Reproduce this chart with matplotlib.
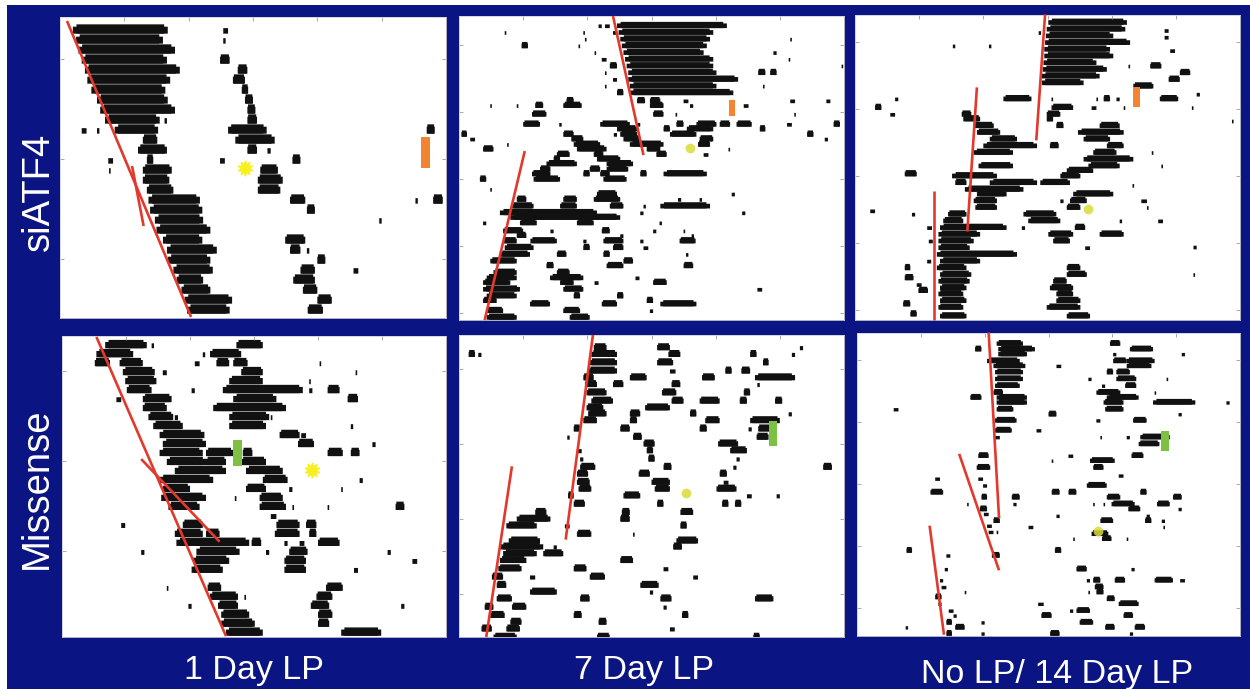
import matplotlib
matplotlib.use("Agg")
import matplotlib.pyplot as plt
from matplotlib.patches import Rectangle
import numpy as np

plt.rcParams['font.family'] = ['Liberation Sans', 'DejaVu Sans']

# ---------------------------------------------------------------------------
# Actogram activity bouts: (day row, onset hour, offset hour), double-plotted 0-48 h
# ---------------------------------------------------------------------------
SIATF4_1D = [
    (0, 1.6, 13.4), (0, 20.3, 20.9),
    (1, 2.0, 12.8), (1, 20.3, 20.6),
    (2, 2.3, 14.3),
    (3, 2.7, 13.3), (3, 19.9, 21.1),
    (4, 3.1, 14.9), (4, 22.1, 23.3),
    (5, 3.4, 13.7), (5, 21.5, 23.0),
    (6, 3.9, 13.1), (6, 22.6, 23.4),
    (7, 4.6, 13.4), (7, 23.0, 24.0),
    (8, 5.0, 14.3), (8, 23.3, 24.3),
    (9, 5.6, 12.4), (9, 13.0, 13.3), (9, 23.3, 24.5),
    (10, 6.8, 12.2), (10, 2.7, 3.3), (10, 4.6, 4.9), (10, 20.9, 25.7), (10, 45.6, 46.6),
    (11, 10.3, 12.1), (11, 21.8, 26.7),
    (12, 9.7, 13.3), (12, 23.3, 24.5), (12, 25.8, 26.2),
    (13, 10.8, 11.6), (13, 6.0, 6.6), (13, 19.9, 20.5), (13, 28.9, 29.9),
    (14, 10.3, 13.9), (14, 6.1, 6.3), (14, 24.9, 27.1),
    (15, 10.3, 13.6), (15, 24.6, 27.7),
    (16, 10.8, 14.1), (16, 24.6, 27.4),
    (17, 11.0, 17.4), (17, 28.6, 30.5), (17, 44.2, 44.5), (17, 46.4, 47.6),
    (18, 11.2, 17.7), (18, 30.7, 31.7),
    (19, 11.8, 17.8), (19, 39.7, 40.0),
    (20, 12.0, 18.7),
    (21, 12.8, 17.7), (21, 28.0, 30.5),
    (22, 13.3, 19.5), (22, 28.6, 29.9), (22, 30.7, 31.0),
    (23, 13.4, 18.7), (23, 32.0, 33.0),
    (24, 14.1, 19.0), (24, 29.9, 31.7), (24, 36.5, 37.1),
    (25, 14.5, 17.8), (25, 29.0, 31.7),
    (26, 15.1, 18.7), (26, 30.2, 32.0),
    (27, 15.5, 21.4), (27, 32.0, 33.8),
    (28, 15.8, 21.1), (28, 30.8, 32.7),
]

SIATF4_7D = [
    (0, 17.4, 17.8), (0, 18.2, 18.8), (0, 19.7, 33.4),
    (1, 19.2, 19.7), (1, 19.9, 31.7), (1, 5.7, 5.9), (1, 15.5, 15.7),
    (2, 20.1, 31.3), (2, 15.7, 15.9), (2, 41.3, 41.5),
    (3, 20.3, 30.9), (3, 7.8, 8.6), (3, 14.9, 15.1),
    (4, 20.5, 30.5), (4, 16.9, 17.1), (4, 39.2, 39.6),
    (5, 20.7, 31.7), (5, 17.8, 18.4), (5, 41.1, 41.3),
    (6, 20.9, 31.7), (6, 18.8, 19.7), (6, 47.7, 47.9),
    (7, 21.1, 32.1), (7, 18.2, 18.4), (7, 37.3, 38.2), (7, 38.8, 39.6),
    (8, 21.1, 34.8), (8, 19.2, 19.7),
    (9, 21.3, 32.1), (9, 18.2, 18.4), (9, 37.9, 38.1),
    (10, 21.3, 34.2), (10, 19.7, 20.5),
    (11.2, 13.4, 14.3), (11.2, 22.2, 23.2), (11.2, 23.8, 25.1), (11.2, 28.0, 28.6),
    (11.2, 41.3, 41.9), (11.2, 45.8, 46.3),
    (11.9, 9.5, 10.5), (11.9, 13.0, 15.3), (11.9, 23.8, 25.5), (11.9, 28.8, 29.2),
    (11.9, 35.5, 36.1), (11.9, 3.9, 4.1), (11.9, 7.2, 7.4),
    (13.2, 9.1, 10.9), (13.2, 24.2, 25.5), (13.2, 27.0, 27.2), (13.2, 41.8, 42.0),
    (14.7, 8.0, 10.1), (14.7, 12.5, 12.8), (14.7, 17.6, 21.3), (14.7, 22.2, 22.6),
    (14.7, 27.1, 28.0), (14.7, 29.6, 32.1), (14.7, 32.5, 33.8), (14.7, 34.6, 36.5),
    (14.7, 40.9, 41.5), (14.7, 46.7, 47.5),
    (15.4, 19.7, 22.2), (15.4, 25.5, 26.3), (15.4, 28.4, 31.7), (15.4, 37.5, 38.2),
    (16.2, 0.3, 1.0), (16.2, 13.0, 14.3), (16.2, 19.3, 19.7), (16.2, 20.1, 22.2),
    (16.2, 26.3, 29.6), (16.2, 43.4, 44.2),
    (16.9, 1.4, 2.0), (16.9, 14.0, 15.5), (16.9, 20.5, 22.6), (16.9, 30.0, 31.7),
    (16.9, 45.6, 46.0),
    (17.7, 14.3, 17.6), (17.7, 21.3, 25.5), (17.7, 29.8, 31.3), (17.7, 6.0, 6.2),
    (18.4, 3.0, 4.3), (18.4, 14.7, 18.4), (18.4, 23.4, 25.1), (18.4, 33.6, 33.8),
    (19.2, 12.2, 13.8), (19.2, 16.8, 18.0), (19.2, 24.6, 25.9), (19.2, 30.5, 31.1),
    (19.9, 11.8, 12.6), (19.9, 17.2, 20.1),
    (20.6, 10.9, 14.7), (20.6, 18.4, 21.7),
    (21.4, 10.1, 11.4), (21.4, 16.3, 17.6), (21.4, 18.4, 21.1),
    (22.1, 9.1, 11.4), (22.1, 15.5, 16.3), (22.1, 17.6, 18.8), (22.1, 22.6, 23.4),
    (22.1, 25.5, 30.9),
    (22.9, 2.6, 3.4), (22.9, 9.3, 12.6), (22.9, 18.0, 20.9),
    (24.4, 3.9, 4.1),
    (25.1, 17.2, 19.7), (25.1, 34.0, 34.4),
    (25.9, 7.2, 8.4), (25.9, 13.0, 14.7), (25.9, 16.8, 20.1), (25.9, 27.3, 27.7),
    (25.9, 30.0, 30.3),
    (26.9, 6.6, 9.3), (26.9, 12.6, 14.7), (26.9, 18.8, 20.5), (26.9, 25.1, 31.3),
    (26.9, 23.0, 23.3),
    (27.9, 5.1, 17.2), (27.9, 22.6, 23.0), (27.9, 35.3, 35.7),
    (28.6, 6.4, 20.1),
    (29.4, 7.6, 9.7), (29.4, 14.7, 16.8), (29.4, 3.0, 3.4), (29.4, 25.0, 25.3),
    (30.6, 5.5, 8.0), (30.6, 11.4, 11.8), (30.6, 17.8, 18.8), (30.6, 24.2, 24.6),
    (30.6, 28.0, 28.2),
    (31.3, 7.2, 8.4), (31.3, 20.1, 20.5), (31.3, 29.0, 29.3),
    (32.1, 5.5, 7.2), (32.1, 8.9, 12.2), (32.1, 18.0, 20.5), (32.1, 15.5, 15.9),
    (32.1, 22.6, 23.0), (32.1, 27.5, 29.5),
    (33.1, 5.7, 9.3), (33.1, 15.5, 16.3), (33.1, 19.2, 20.5), (33.1, 23.0, 23.6),
    (34.1, 5.1, 8.85), (34.1, 12.2, 13.4), (34.1, 18.0, 18.8), (34.1, 28.3, 28.6),
    (35.1, 3.9, 7.2), (35.1, 20.5, 21.7),
    (35.8, 10.9, 11.8), (35.8, 18.4, 20.5), (35.8, 28.0, 29.2),
    (36.8, 4.3, 7.2), (36.8, 12.2, 13.8),
    (37.6, 3.45, 7.2), (37.6, 11.35, 15.5), (37.6, 22.0, 22.5),
    (38.3, 3.0, 6.4), (38.3, 12.6, 14.3), (38.3, 24.2, 25.9), (38.3, 16.9, 17.4),
    (39.3, 3.0, 7.6), (39.3, 13.0, 15.5), (39.3, 37.2, 37.8),
    (40.3, 3.45, 7.2), (40.3, 14.3, 15.1), (40.3, 19.7, 20.5),
    (41.0, 3.0, 4.7), (41.0, 23.4, 24.2),
    (41.5, 8.85, 11.35), (41.5, 17.8, 19.7), (41.5, 25.1, 29.6),
    (42.5, 3.45, 5.5), (42.5, 13.0, 15.1), (42.5, 23.8, 24.2),
    (43.5, 3.45, 7.2), (43.5, 13.8, 16.3),
]

SIATF4_NOLP = [
    (0, 24.1, 33.9), (1, 23.9, 33.7), (2, 23.8, 32.2), (3, 23.7, 34.3),
    (4, 23.6, 31.8), (5, 23.6, 32.2), (6, 23.5, 30.1), (7, 23.4, 31.4),
    (8, 23.3, 30.5), (9, 23.3, 28.5),
    (1.5, 22.9, 23.2), (3.5, 12.2, 12.5), (3.5, 16.7, 17.0),
    (1.2, 38.6, 39.1), (2.2, 38.6, 39.1), (4.2, 39.3, 39.9), (6.5, 36.8, 38.2),
    (6.5, 34.1, 34.3), (7.5, 40.5, 41.8), (8.5, 39.1, 40.5), (9.5, 34.7, 37.2),
    (10.7, 42.6, 43.0),
    (11.4, 18.5, 22.0), (11.4, 24.5, 24.7), (11.4, 30.1, 30.3), (11.4, 31.0, 31.8),
    (11.4, 32.6, 33.0), (11.4, 38.0, 40.3), (11.4, 5.0, 5.4),
    (12.7, 2.5, 3.3), (12.7, 24.5, 27.2), (12.7, 29.5, 30.1), (12.7, 33.5, 33.7),
    (12.7, 42.0, 42.2),
    (13.7, 4.4, 5.0), (13.7, 13.3, 14.5), (13.7, 23.9, 25.6),
    (14.4, 13.5, 15.6), (14.4, 23.9, 24.7), (14.7, 47.0, 47.2),
    (15.4, 14.8, 17.3), (15.4, 25.1, 26.0), (15.4, 30.5, 33.0),
    (16.4, 15.2, 18.1), (16.4, 27.8, 33.5),
    (17.4, 16.8, 20.2), (17.4, 28.5, 31.8),
    (18.4, 16.0, 22.7), (18.4, 24.3, 25.4), (18.4, 31.4, 33.5),
    (19.4, 14.8, 19.7), (19.4, 29.7, 32.6), (19.4, 37.0, 37.2),
    (20.4, 28.5, 34.7),
    (21.4, 15.4, 19.7), (21.4, 29.1, 33.0), (21.4, 38.2, 38.4),
    (22.1, 26.4, 29.7), (22.6, 6.2, 7.7),
    (22.9, 12.1, 17.7), (22.9, 25.6, 28.1),
    (23.9, 12.5, 13.9), (23.9, 16.8, 22.7), (23.9, 23.1, 26.8),
    (24.3, 34.6, 34.8),
    (24.9, 13.7, 21.0),
    (25.6, 15.2, 18.9), (25.6, 27.2, 32.2),
    (26.6, 14.8, 17.7), (26.6, 25.6, 26.0), (26.6, 26.8, 28.9), (26.6, 35.7, 36.4),
    (27.6, 15.0, 17.7), (27.6, 26.4, 28.1), (27.6, 36.4, 36.6),
    (28.1, 1.9, 2.5), (28.6, 21.0, 25.1), (28.6, 7.1, 7.5), (28.6, 11.6, 13.9),
    (29.6, 11.0, 13.5), (29.6, 21.6, 25.6), (29.6, 37.8, 38.4), (29.6, 33.0, 33.3),
    (30.6, 10.6, 18.9), (30.6, 20.8, 21.2), (30.6, 27.4, 28.7), (30.6, 9.0, 9.6),
    (31.6, 10.4, 15.6), (31.6, 24.1, 27.2), (31.6, 30.5, 33.5),
    (32.6, 10.4, 14.8), (32.6, 24.7, 26.8), (32.6, 9.2, 9.7),
    (33.6, 10.4, 14.3), (33.6, 28.7, 29.3), (33.5, 42.2, 42.6),
    (34.6, 10.2, 20.2),
    (35.6, 10.6, 15.6), (35.6, 9.0, 9.5),
    (36.6, 10.2, 13.9), (36.6, 6.2, 6.9), (36.6, 26.4, 28.1),
    (37.6, 10.6, 14.5), (37.6, 26.4, 28.9), (37.6, 42.2, 42.4),
    (38.6, 10.4, 14.3), (38.1, 6.2, 7.3), (38.6, 24.7, 26.4),
    (39.6, 10.6, 13.9), (39.1, 7.7, 8.3), (39.6, 24.3, 27.2),
    (40.5, 10.4, 13.5), (40.0, 7.9, 9.1), (40.5, 25.1, 27.2),
    (41.5, 10.6, 13.9), (41.5, 25.1, 28.1),
    (42.5, 10.4, 13.5), (42.0, 6.0, 6.9), (42.5, 23.9, 28.1),
    (43.8, 10.6, 13.9), (43.5, 6.9, 7.7), (43.8, 26.4, 29.3),
]

MISSENSE_1D = [
    (0, 5.4, 10.6), (0, 11.2, 11.5), (0, 21.8, 25.1),
    (1, 4.3, 8.9), (1, 18.5, 22.4), (1, 17.6, 17.9),
    (2, 4.1, 6.0), (2, 7.2, 10.1), (2, 16.6, 17.2), (2, 19.3, 20.9), (2, 21.4, 23.2),
    (2, 32.2, 32.4),
    (3, 7.6, 11.6), (3, 12.6, 13.1), (3, 22.4, 25.1), (3, 36.7, 36.9),
    (4, 7.9, 11.8), (4, 20.9, 25.1), (4, 30.9, 31.1),
    (5, 8.1, 11.2), (5, 16.2, 16.6), (5, 20.1, 30.1), (5, 30.9, 31.3), (5, 33.2, 34.7),
    (6, 6.8, 7.4), (6, 10.1, 13.7), (6, 21.4, 26.8), (6, 35.7, 37.0),
    (7, 10.1, 13.1), (7, 18.9, 28.0),
    (8, 10.8, 13.9), (8, 14.1, 14.5), (8, 20.9, 25.9), (8, 26.1, 26.3),
    (9, 11.4, 15.1), (9, 20.9, 25.5), (9, 36.1, 36.4),
    (10, 12.2, 17.8), (10, 27.2, 29.7), (10, 29.9, 30.5),
    (11, 12.6, 18.0), (11, 29.5, 31.5), (11, 38.8, 39.2),
    (12, 12.2, 17.6), (12, 18.0, 21.4), (12, 22.6, 23.8), (12, 33.2, 35.1), (12, 36.1, 37.2),
    (13, 13.1, 18.0), (13, 18.0, 20.5), (13, 22.4, 25.5),
    (14, 14.1, 20.5), (14, 23.0, 27.6),
    (15, 12.2, 18.9), (15, 25.1, 28.2), (15, 37.2, 37.6),
    (16, 12.6, 16.0), (16, 23.0, 25.5), (16, 28.4, 28.8), (16, 34.9, 35.1),
    (17, 12.4, 18.0), (17, 21.6, 21.8), (17, 24.7, 27.6),
    (18, 13.3, 17.2), (18, 24.7, 28.0), (18, 28.8, 29.0), (18, 33.2, 33.4), (18, 41.7, 42.8),
    (19, 26.1, 26.8),
    (20, 7.4, 7.9), (20, 15.1, 17.6), (20, 26.8, 29.7), (20, 30.5, 31.8),
    (21, 14.1, 17.6), (21, 18.0, 19.7), (21, 26.6, 29.7), (21, 30.9, 31.8),
    (22, 14.3, 23.4), (22, 23.7, 24.9), (22, 27.8, 28.2), (22, 29.7, 30.3), (22, 32.0, 34.7),
    (23, 9.9, 10.3), (23, 16.8, 22.2), (23, 25.5, 25.9), (23, 28.4, 30.7), (23, 40.7, 41.1),
    (24, 16.4, 20.9), (24, 27.8, 30.5), (24, 43.8, 44.4),
    (25, 16.2, 20.1), (25, 27.8, 30.5), (25, 36.5, 37.0),
    (27, 13.1, 13.3), (27, 18.2, 19.9), (27, 33.0, 35.1),
    (28, 18.5, 22.0), (28, 22.8, 23.0), (28, 31.8, 33.8),
    (29, 15.8, 16.2), (29, 19.5, 22.0), (29, 31.1, 33.4), (29, 42.4, 42.8),
    (30, 19.9, 23.4), (30, 32.0, 33.8),
    (31, 19.9, 24.1), (31, 32.0, 33.4),
    (32, 20.5, 25.1), (32, 34.9, 39.9),
]

MISSENSE_7D = [
    (0.1, 16.8, 18.4), (0.1, 24.7, 26.3), (0.1, 42.5, 42.9),
    (1.0, 16.5, 19.7), (1.0, 26.1, 27.6), (1.0, 1.2, 2.0), (1.0, 2.4, 2.8),
    (1.0, 36.3, 37.1), (1.0, 41.5, 41.9),
    (2.1, 16.3, 19.7), (2.1, 24.7, 26.7), (2.1, 37.9, 38.6),
    (3.2, 16.1, 19.7), (3.2, 26.3, 27.0), (3.2, 33.2, 34.0), (3.2, 35.2, 36.3),
    (4.1, 15.5, 16.8), (4.1, 21.3, 23.4), (4.1, 30.3, 31.9), (4.1, 36.9, 41.9),
    (5.0, 15.7, 17.2), (5.0, 19.2, 20.5), (5.0, 26.5, 27.6), (5.0, 37.2, 37.5),
    (6.1, 15.9, 18.4), (6.1, 25.3, 27.1), (6.1, 35.5, 36.3),
    (7.2, 16.5, 19.2), (7.2, 26.5, 28.0), (7.2, 30.0, 32.5), (7.2, 35.0, 35.9),
    (7.2, 39.4, 40.3),
    (8.1, 15.9, 18.0), (8.1, 23.2, 26.3),
    (8.9, 16.1, 18.4), (8.9, 21.3, 22.6), (8.9, 28.8, 29.6), (8.9, 41.1, 41.5),
    (9.8, 15.5, 17.2), (9.8, 21.3, 22.2), (9.8, 30.7, 32.5), (9.8, 36.3, 40.0),
    (10.9, 14.3, 15.1), (10.9, 20.1, 21.3), (10.9, 30.0, 30.9), (10.9, 36.1, 36.5),
    (10.9, 37.3, 38.8),
    (12.0, 21.7, 22.8), (12.0, 37.1, 38.6), (12.0, 13.5, 13.8),
    (12.9, 23.0, 24.4), (12.9, 32.3, 34.8),
    (13.8, 14.7, 15.3), (13.8, 23.4, 24.2), (13.8, 33.8, 35.9),
    (14.9, 15.1, 15.5), (14.9, 23.6, 24.4), (14.9, 34.6, 35.0),
    (16.0, 15.1, 17.0), (16.0, 25.5, 26.5), (16.0, 34.2, 34.6), (16.0, 45.4, 46.5),
    (16.9, 14.7, 16.1), (16.9, 22.4, 23.8), (16.9, 32.5, 33.4),
    (18.0, 14.7, 16.3), (18.0, 24.0, 26.3), (18.0, 33.0, 33.6),
    (18.9, 14.9, 16.5), (18.9, 24.4, 26.3), (18.9, 32.1, 34.6),
    (19.8, 13.6, 14.3), (19.8, 20.5, 22.6), (19.8, 35.9, 36.5), (19.8, 39.6, 40.0),
    (20.9, 14.3, 15.7), (20.9, 24.7, 25.5), (20.9, 32.8, 33.6), (20.9, 34.4, 35.2),
    (22.0, 9.5, 10.9), (22.0, 20.3, 21.3), (22.0, 27.6, 29.2),
    (22.9, 7.2, 11.4), (22.9, 20.1, 21.3),
    (23.8, 5.9, 9.7), (23.8, 13.2, 13.8), (23.8, 27.6, 28.4),
    (24.9, 14.7, 16.5), (24.9, 21.7, 21.9),
    (25.8, 6.2, 10.1), (25.8, 27.1, 29.8),
    (26.6, 5.1, 10.5), (26.6, 11.8, 12.2), (26.6, 26.7, 27.8),
    (27.5, 5.5, 9.7), (27.5, 10.5, 13.0),
    (28.4, 5.1, 8.4), (28.4, 20.1, 21.7),
    (29.5, 4.9, 7.8), (29.5, 14.3, 15.9), (29.5, 25.5, 26.1),
    (30.6, 4.1, 5.5), (30.6, 8.85, 9.5), (30.6, 16.3, 18.2), (30.6, 29.2, 29.8),
    (31.7, 4.7, 5.9), (31.7, 22.6, 24.9),
    (32.6, 8.85, 12.2), (32.6, 23.8, 24.2),
    (33.5, 4.7, 6.6), (33.5, 15.1, 16.3), (33.5, 25.1, 26.5), (33.5, 36.9, 39.2),
    (34.6, 3.2, 4.3), (34.6, 6.6, 8.4), (34.6, 25.5, 25.9),
    (35.7, 3.9, 5.7), (35.7, 14.3, 15.3), (35.7, 27.8, 28.6),
    (36.6, 6.4, 7.8), (36.6, 17.4, 18.4),
    (37.5, 2.8, 4.1), (37.5, 5.9, 7.6), (37.5, 26.3, 26.9),
    (38.6, 4.3, 7.2), (38.6, 17.2, 18.8), (38.6, 36.7, 37.5),
]

MISSENSE_NOLP = [
    (0.2, 17.5, 20.8), (0.2, 31.7, 33.0),
    (1.1, 14.8, 15.6), (1.1, 17.7, 22.3), (1.1, 34.2, 37.1),
    (1.9, 17.7, 21.3), (1.9, 32.1, 32.5), (1.9, 40.7, 41.1),
    (3.0, 16.3, 20.4), (3.0, 32.1, 33.8), (3.0, 33.8, 37.3),
    (3.8, 17.1, 21.1), (3.8, 25.0, 25.6), (3.8, 33.8, 36.9),
    (4.8, 17.3, 20.8), (4.8, 31.3, 32.1), (4.8, 32.5, 34.2),
    (5.9, 17.3, 20.8), (5.9, 32.5, 35.0), (5.9, 29.0, 29.4), (5.9, 38.8, 39.0),
    (7.0, 17.3, 20.4), (7.0, 33.6, 35.0), (7.0, 30.7, 31.1),
    (8.1, 17.1, 18.3), (8.1, 30.0, 33.0), (8.1, 37.3, 37.5),
    (8.9, 14.2, 15.6), (8.9, 17.5, 21.3), (8.9, 31.3, 35.3),
    (9.7, 17.5, 21.3), (9.7, 30.9, 33.4), (9.7, 37.1, 42.4), (9.7, 46.3, 46.7),
    (10.8, 17.5, 19.6), (10.8, 31.1, 33.4), (10.8, 4.6, 5.2),
    (11.6, 24.0, 25.0), (11.6, 40.3, 40.7),
    (12.6, 17.3, 20.0), (12.6, 34.6, 36.3), (12.6, 30.0, 30.5),
    (14.2, 17.3, 19.4), (14.2, 22.5, 23.1),
    (15.3, 17.3, 17.9), (15.3, 33.8, 34.2), (15.3, 35.5, 39.2), (15.3, 30.5, 30.7),
    (16.4, 35.3, 37.9),
    (18.3, 15.2, 16.5), (18.3, 34.4, 35.9), (18.3, 26.5, 27.1),
    (19.1, 29.2, 32.3), (19.1, 24.4, 24.6),
    (20.2, 15.0, 16.7), (20.2, 29.6, 30.9),
    (21.5, 32.8, 33.4), (22.0, 9.8, 10.4), (22.0, 15.2, 15.8),
    (23.1, 28.8, 31.3), (23.1, 15.8, 16.3),
    (24.2, 9.2, 10.8), (24.2, 24.4, 25.4), (24.2, 26.5, 27.5), (24.2, 35.5, 36.3),
    (25.0, 19.4, 20.4), (25.0, 31.3, 33.0), (25.0, 39.6, 40.7), (25.0, 15.6, 16.3),
    (26.1, 19.6, 20.0), (26.1, 31.9, 34.8), (26.1, 37.6, 39.2), (26.1, 29.6, 29.8),
    (26.1, 30.9, 31.1), (26.1, 13.8, 14.0),
    (26.9, 15.4, 16.3), (26.9, 34.0, 35.5), (26.9, 40.3, 40.7),
    (27.7, 15.9, 16.5),
    (28.0, 25.0, 25.4), (28.0, 36.3, 36.7),
    (28.8, 17.1, 17.9), (28.8, 30.5, 32.1), (28.8, 36.1, 36.9), (28.8, 38.2, 38.6),
    (29.6, 16.3, 16.9),
    (29.8, 38.4, 38.6), (29.8, 21.5, 22.1),
    (30.6, 16.5, 17.1), (30.6, 17.5, 17.7),
    (30.9, 29.4, 31.5),
    (31.7, 27.1, 27.3), (31.7, 30.7, 31.9), (31.7, 33.8, 34.0),
    (33.6, 6.2, 6.9), (33.6, 24.8, 25.6),
    (34.4, 11.2, 11.7), (34.4, 16.9, 17.9),
    (36.6, 27.5, 28.8), (36.6, 34.4, 34.8), (36.6, 11.0, 11.4),
    (38.4, 28.8, 29.2), (38.4, 29.6, 30.5), (38.4, 32.3, 33.6), (38.4, 37.3, 39.6),
    (38.4, 40.5, 41.1), (38.4, 10.4, 10.8),
    (39.5, 10.6, 11.2), (39.5, 29.8, 30.9),
    (40.3, 29.0, 29.2), (40.3, 30.0, 30.9), (40.3, 13.5, 13.7),
    (41.1, 9.8, 10.6), (41.4, 31.3, 32.3),
    (42.2, 22.7, 23.4), (42.2, 32.8, 35.3), (42.2, 10.2, 10.6),
    (43.3, 11.5, 12.1), (43.3, 26.7, 27.1), (43.3, 27.5, 29.2),
    (44.1, 12.1, 12.5), (44.1, 23.1, 24.4), (44.1, 33.4, 34.6),
    (45.2, 11.2, 11.9), (45.2, 15.6, 16.0), (45.2, 27.9, 29.6),
    (46.0, 12.3, 13.5), (46.0, 31.1, 32.3), (46.0, 34.8, 36.1), (46.0, 6.1, 6.4),
    (47.0, 11.2, 11.9), (47.0, 15.6, 16.0), (47.0, 24.2, 25.4), (47.0, 34.2, 34.6),
]

# Fitted activity-onset lines: ((hour, row), (hour, row))
ONSET_LINES = {
    "SIATF4_1D": [((0.87, -0.8), (16.3, 28.8)), ((8.96, 13.7), (10.4, 19.7))],
    "SIATF4_7D": [((19.2, -1.34), (23.0, 19.4)), ((8.2, 18.8), (3.2, 44.0))],
    "SIATF4_NOLP": [((23.7, -1.1), (22.6, 17.7)), ((15.2, 9.8), (14.0, 31.3)),
                    ((9.9, 25.2), (9.9, 44.5))],
    "MISSENSE_1D": [((4.3, -0.8), (20.5, 32.5)), ((9.9, 12.8), (19.7, 22.0))],
    "MISSENSE_7D": [((16.7, -1.46), (13.3, 25.75)), ((6.6, 16.0), (3.4, 38.7))],
    "MISSENSE_NOLP": [((16.5, -1.5), (17.8, 28.5)), ((12.8, 18.1), (17.8, 36.9)),
                      ((9.1, 29.7), (10.9, 47.3))],
}

# Treatment bars: (hour start, hour end, row start, row end)
ORANGE_BARS = {"SIATF4_1D": (44.9, 46.0, 10.8, 13.9),
               "SIATF4_7D": (33.7, 34.4, 11.2, 13.6),
               "SIATF4_NOLP": (34.6, 35.5, 9.8, 12.7)}
GREEN_BARS = {"MISSENSE_1D": (21.4, 22.5, 10.7, 13.6),
              "MISSENSE_7D": (38.7, 39.7, 10.0, 13.3),
              "MISSENSE_NOLP": (38.1, 39.1, 14.4, 17.7)}

# Star markers (hour, row)
STARS = {"SIATF4_1D": (23.0, 13.9), "SIATF4_7D": (28.8, 18.3),
         "SIATF4_NOLP": (29.0, 27.9), "MISSENSE_1D": (31.3, 14.0),
         "MISSENSE_7D": (28.3, 19.5), "MISSENSE_NOLP": (30.2, 30.5)}

ROW_LABELS = ["siATF4", "Missense"]
COL_LABELS = ["1 Day LP", "7 Day LP", "No LP/ 14 Day LP"]

# ---------------------------------------------------------------------------
W, H = 1250, 689
NAVY = "#0a1482"
RED = "#e2392c"
INK = "#111111"

fig = plt.figure(figsize=(W / 100, H / 100), dpi=100)
fig.patch.set_facecolor("white")

# navy backdrop drawn as a full-figure axes underneath the panels
bg = fig.add_axes([0, 0, 1, 1], zorder=-10)
bg.set_xlim(0, W)
bg.set_ylim(H, 0)
bg.axis("off")
bg.add_patch(Rectangle((7, 5), W - 7, H - 5, facecolor=NAVY, edgecolor="none"))

# panel name -> (bouts, pixel box x0, x1, y0, y1, y-limits (bottom, top), bright star)
PANELS = [
    ("SIATF4_1D", SIATF4_1D, (60, 446, 17, 318), (28.9, -1.2), True),
    ("SIATF4_7D", SIATF4_7D, (459, 844, 16, 320), (44.0, -1.34), False),
    ("SIATF4_NOLP", SIATF4_NOLP, (855, 1240, 15, 320), (44.5, -1.0), False),
    ("MISSENSE_1D", MISSENSE_1D, (62, 446, 336, 637), (32.6, -0.9), True),
    ("MISSENSE_7D", MISSENSE_7D, (459, 844, 335, 637), (38.7, -1.46), False),
    ("MISSENSE_NOLP", MISSENSE_NOLP, (857, 1240, 333, 636), (47.5, -1.4), False),
]


def draw_bouts(ax, bouts):
    rows = np.array([b[0] for b in bouts], dtype=float)
    s = np.array([b[1] for b in bouts], dtype=float)
    e = np.array([b[2] for b in bouts], dtype=float)
    w = e - s
    full = 0.93
    base = rows + full / 2
    short = w < 0.7
    # short bouts: small low ticks sitting on the row baseline
    ax.bar(s[short], -0.55, width=w[short], bottom=base[short],
           align="edge", color=INK, linewidth=0, snap=False)
    lg = ~short
    # longer bouts: shoulders at three-quarter height, core at full height
    ax.bar(s[lg], -0.75 * full, width=w[lg], bottom=base[lg],
           align="edge", color=INK, linewidth=0, snap=False)
    inset = np.minimum(0.08 * w[lg], 0.45)
    ax.bar(s[lg] + inset, -full, width=w[lg] - 2 * inset, bottom=base[lg],
           align="edge", color=INK, linewidth=0, snap=False)


for name, bouts, (x0, x1, y0, y1), ylim, bright in PANELS:
    ax = fig.add_axes([x0 / W, 1 - y1 / H, (x1 - x0) / W, (y1 - y0) / H])
    ax.set_facecolor("white")
    ax.set_xlim(0, 48)
    ax.set_ylim(*ylim)
    draw_bouts(ax, bouts)

    for (ha, ra), (hb, rb) in ONSET_LINES[name]:
        ax.plot([ha, hb], [ra, rb], color=RED, lw=1.9, solid_capstyle="butt",
                zorder=5, clip_on=False)

    if name in ORANGE_BARS:
        hs_, he_, rs_, re_ = ORANGE_BARS[name]
        ax.add_patch(Rectangle((hs_, rs_), he_ - hs_, re_ - rs_, facecolor="#f28432",
                               edgecolor="none", zorder=6))
    if name in GREEN_BARS:
        hs_, he_, rs_, re_ = GREEN_BARS[name]
        ax.add_patch(Rectangle((hs_, rs_), he_ - hs_, re_ - rs_, facecolor="#7cc142",
                               edgecolor="none", zorder=6))

    sx, sy = STARS[name]
    if bright:
        ax.plot(sx, sy, marker=(10, 1, 0), ms=11, color="#f7f01e", mec="#f7f01e",
                zorder=7)
    else:
        ax.plot(sx, sy, marker="o", ms=7, color="#d9dc3a", alpha=0.85, mec="none",
                zorder=7)

    ax.set_xticks([8, 16, 24, 32, 40])
    ax.set_yticks(np.arange(3, ylim[0], 10))
    ax.tick_params(axis="both", which="both", direction="in", length=3, width=0.6,
                   color="#9a9a9a", top=True, bottom=False, left=True, right=True,
                   labelbottom=False, labelleft=False)
    for sp in ax.spines.values():
        sp.set_color("#d0d0d0")
        sp.set_linewidth(0.6)

# Row labels (rotated) and column labels
fig.text(39 / W, 1 - 192 / H, ROW_LABELS[0], rotation=90, color="white",
         fontsize=27.5, ha="center", va="center")
fig.text(37 / W, 1 - 488 / H, ROW_LABELS[1], rotation=90, color="white",
         fontsize=27.5, ha="center", va="center")
for cx, by, lab in [(254, 679, COL_LABELS[0]), (644, 679, COL_LABELS[1]),
                    (1057, 683, COL_LABELS[2])]:
    fig.text(cx / W, 1 - by / H, lab, color="white", fontsize=24.5,
             ha="center", va="baseline")

fig.savefig("out.png", dpi=100, facecolor=fig.get_facecolor())
